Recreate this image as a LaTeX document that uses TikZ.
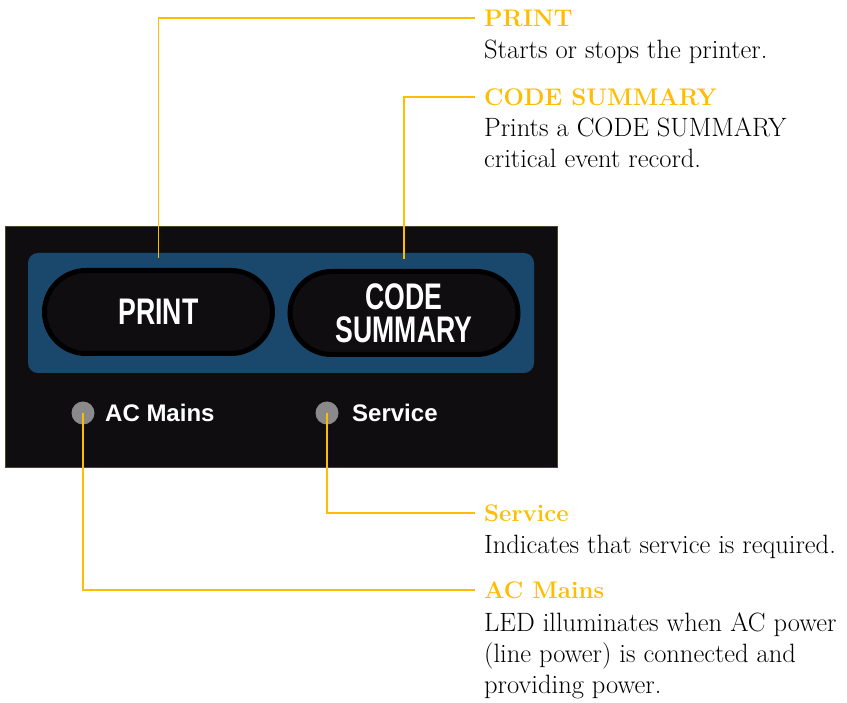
\documentclass[tikz,border=0pt]{standalone}
\usepackage{fontspec}
\usepackage{tikz}
\newfontfamily\panelfont{Liberation Sans}
\newcommand{\btnlabel}[1]{\scalebox{.72}[1]{#1}}

\definecolor{leadgold}{RGB}{255,188,0}
\definecolor{panelblack}{RGB}{15,13,16}
\definecolor{panelblue}{RGB}{26,72,108}
\definecolor{panelrim}{RGB}{70,70,40}
\definecolor{ledgrey}{RGB}{138,138,138}

\begin{document}
\begin{tikzpicture}[x=1pt,y=1pt,yscale=-1,xscale=1,
  leader/.style={draw=leadgold, line width=1.8},
  head/.style={anchor=west, inner xsep=9pt, inner ysep=0pt, text depth=0pt, text=leadgold, font=\fontsize{24}{24}\selectfont\bfseries},
  body/.style={anchor=base west, inner sep=0pt, align=left, font=\fontsize{26.5}{31}\selectfont},
  button/.style={rectangle, rounded corners=41.5, minimum width=228, minimum height=83, draw=black, line width=5, fill=panelblack, text=white, align=center, font=\panelfont\fontsize{37}{32}\selectfont\bfseries},
  led/.style={circle, minimum size=23, inner sep=0pt, fill=ledgrey},
  ledtext/.style={anchor=west, inner sep=0pt, text depth=0pt, text=white, font=\panelfont\fontsize{24}{24}\selectfont\bfseries}]
\useasboundingbox (0,0) rectangle (847,703);

%Shape: Rectangle [panel]
\draw [draw=panelrim, fill=panelblack] (5,226) rectangle (557,467);
%Shape: Rectangle [blue strip]
\draw [draw=none, fill=panelblue, rounded corners=10] (28,253) rectangle (534,373);

%Shape: Buttons
\node [button] (printbtn) at (158.5,312) {\btnlabel{PRINT}};
\node [button] (codebtn) at (404,313) {\btnlabel{CODE}\\[1pt]\btnlabel{SUMMARY}};

%Shape: LEDs
\node [led] (acled) at (83,413) {};
\node [led] (svcled) at (327,413) {};
\node [ledtext] (actext) at (105,413) {AC Mains};
\node [ledtext] (svctext) at (352,413) {Service};

% Text Node
\node [head] (hprint) at (475,18) {PRINT};
% Text Node
\node [body] (bprint) at (484,59) {Starts or stops the printer.};
% Text Node
\node [head] (hcode) at (475,97) {CODE SUMMARY};
% Text Node (base is the last line)
\node [body] (bcode) at (484,168) {Prints a CODE SUMMARY\\critical event record.};
% Text Node
\node [head] (hservice) at (475,513) {Service};
% Text Node
\node [body] (bservice) at (484,553) {Indicates that service is required.};
% Text Node
\node [head] (hac) at (475,590) {AC Mains};
% Text Node (base is the last line)
\node [body] (bac) at (484,693) {LED illuminates when AC power\\(line power) is connected and\\providing power.};

%Straight Lines [leaders]
\draw [leader] ([yshift=-10pt]printbtn.north) |- (hprint.west);
\draw [leader] ([yshift=-10pt]codebtn.north) |- (hcode.west);
\draw [leader] (svcled.center) |- (hservice.west);
\draw [leader] (acled.center) |- (hac.west);

\end{tikzpicture}
\end{document}
